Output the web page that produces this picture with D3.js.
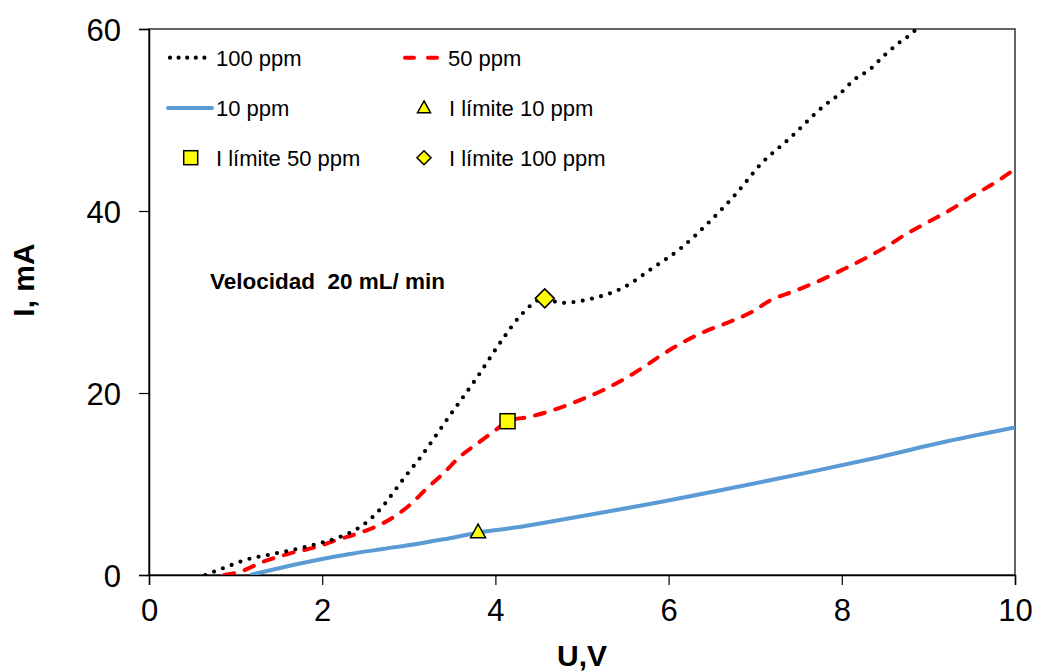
<!DOCTYPE html>
<html><head><meta charset="utf-8">
<script src="https://cdn.jsdelivr.net/npm/d3@7"></script>
<style>body{margin:0;background:#fff}svg{display:block;font-family:"Liberation Sans",Arial,sans-serif}</style>
</head><body>
<svg id="c" width="1038" height="671"></svg>
<script>
const xTicks = [0,2,4,6,8,10];
const yTicks = [0,20,40,60];
const u100 = [0.65,0.90,1.11,1.43,1.76,1.98,2.18,2.40,2.57,2.73,2.86,2.99,3.13,3.26,3.45,3.78,4.09,4.28,4.57,4.75,5.08,5.50,5.81,6.14,6.47,6.78,7.07,7.40,7.80,7.98,8.14,8.33,8.48,8.65,8.83,8.90];
const i100 = [0,0.91,1.65,2.31,2.97,3.52,4.10,5.05,6.26,7.91,9.56,11.2,12.86,14.6,17.2,21.6,26.0,28.4,30.4,29.9,30.3,31.7,33.7,35.9,38.8,41.9,45.2,48.0,51.6,52.9,54.4,55.6,57.0,58.4,59.7,60.4];
const u50 = [0.87,1.05,1.32,1.63,1.94,2.17,2.47,2.70,2.86,3.01,3.21,3.40,3.59,3.82,4.01,4.14,4.40,4.66,4.97,5.24,5.50,5.72,5.94,6.17,6.43,6.70,6.96,7.18,7.45,7.71,8.02,8.25,8.50,8.75,9.00,9.25,9.48,9.75,10.0];
const i50 = [0,0.36,1.46,2.38,3.11,3.85,4.76,5.68,6.59,7.69,9.53,11.18,13.0,14.65,16.0,16.9,17.4,18.1,19.2,20.3,21.6,22.9,24.3,25.6,26.8,27.8,28.9,30.2,31.2,32.2,33.6,34.7,36.0,37.5,38.8,40.1,41.5,43.0,44.6];
const u10 = [1.17,1.36,1.55,1.94,2.32,2.70,3.09,3.40,3.80,4.25,4.63,5.67,6.83,7.60,8.36,9.13,10.0];
const i10 = [0,0.44,0.85,1.65,2.31,2.86,3.41,3.92,4.65,5.24,5.86,7.6,9.75,11.25,12.8,14.5,16.2];
const limNames = ["I límite 10 ppm","I límite 50 ppm","I límite 100 ppm"];
const limU = [3.80,4.14,4.57];
const limI = [4.7,16.9,30.4];
const seriesNames = ["100 ppm","50 ppm","10 ppm"];

const svg = d3.select("#c");
const x = d3.scaleLinear().domain([0,10]).range([149,1015]);
const y = d3.scaleLinear().domain([0,60]).range([575,29]);

svg.append("defs").append("clipPath").attr("id","clip")
  .append("rect").attr("x",149).attr("y",29).attr("width",866).attr("height",546);

svg.append("rect").attr("x",149).attr("y",29).attr("width",866).attr("height",546)
  .attr("fill","none").attr("stroke","#333").attr("stroke-width",1.5);

const xa = svg.append("g").attr("transform","translate(0,575)")
  .call(d3.axisBottom(x).tickValues(xTicks).tickSize(10).tickPadding(14).tickFormat(d3.format("d")));
const ya = svg.append("g").attr("transform","translate(149,0)")
  .call(d3.axisLeft(y).tickValues(yTicks).tickSize(10).tickPadding(18).tickFormat(d3.format("d")));
[xa,ya].forEach(a=>{
  a.select(".domain").attr("stroke","#000").attr("stroke-width",1.5);
  a.selectAll(".tick line").attr("stroke","#000").attr("stroke-width",1.2);
  a.selectAll("text").attr("font-size",31).attr("fill","#000").attr("font-family","Liberation Sans, Arial, sans-serif");
});
ya.selectAll("text").attr("dy","0.36em");

svg.append("text").attr("x",582).attr("y",666).attr("text-anchor","middle")
  .attr("font-size",30).attr("font-weight","bold").text("U,V");
svg.append("text").attr("transform","translate(34,280) rotate(-90)").attr("text-anchor","middle")
  .attr("font-size",30).attr("font-weight","bold").text("I, mA");

const line = d3.line().x(d=>x(d[0])).y(d=>y(d[1])).curve(d3.curveMonotoneX);
const g = svg.append("g").attr("clip-path","url(#clip)");
const z = (a,b)=>a.map((v,i)=>[v,b[i]]);

g.append("path").datum(z(u10,i10)).attr("d",line).attr("fill","none")
  .attr("stroke","#5b9bd5").attr("stroke-width",4);
g.append("path").datum(z(u50,i50)).attr("d",line).attr("fill","none")
  .attr("stroke","#ff0000").attr("stroke-width",4).attr("stroke-linecap","round").attr("stroke-dasharray","10 11");
g.append("path").datum(z(u100,i100)).attr("d",line).attr("fill","none")
  .attr("stroke","#000").attr("stroke-width",4.2).attr("stroke-linecap","round").attr("stroke-dasharray","0 9.4");

function marker(sel, k, cx, cy, big){
  if(k===0){
    const s = big?15:13;
    const h = s*0.9;
    sel.append("path").attr("d",`M${cx},${cy-h*0.6}L${cx+s/2},${cy+h*0.4}L${cx-s/2},${cy+h*0.4}Z`)
      .attr("fill","#ffff00").attr("stroke","#000").attr("stroke-width",1.5);
  } else if(k===1){
    const s = big?15:14;
    sel.append("rect").attr("x",cx-s/2).attr("y",cy-s/2).attr("width",s).attr("height",s)
      .attr("fill","#ffff00").attr("stroke","#000").attr("stroke-width",1.5);
  } else {
    const s = big?9.5:7;
    sel.append("path").attr("d",`M${cx},${cy-s}L${cx+s},${cy}L${cx},${cy+s}L${cx-s},${cy}Z`)
      .attr("fill","#ffff00").attr("stroke","#000").attr("stroke-width",1.5);
  }
}
limU.forEach((u,k)=>marker(svg,k,x(u),y(limI[k]),true));

const lg = svg.append("g").attr("font-size",22);
function legLine(x1,x2,yy,stroke,w,dash,cap){
  const p = lg.append("line").attr("x1",x1).attr("x2",x2).attr("y1",yy).attr("y2",yy)
    .attr("stroke",stroke).attr("stroke-width",w);
  if(dash) p.attr("stroke-dasharray",dash);
  if(cap) p.attr("stroke-linecap",cap);
}
legLine(170,211,57.7,"#000",4.2,"0 8.6","round");
lg.append("text").attr("x",216).attr("y",65.7).text(seriesNames[0]);
legLine(405,442,57.7,"#ff0000",4,"9 14","round");
lg.append("text").attr("x",448).attr("y",65.7).text(seriesNames[1]);
legLine(168,212,108,"#5b9bd5",4,null,"round");
lg.append("text").attr("x",216).attr("y",116).text(seriesNames[2]);
marker(lg,0,424,108,false);
lg.append("text").attr("x",449).attr("y",116).text(limNames[0]);
marker(lg,1,190.7,157.7,false);
lg.append("text").attr("x",216).attr("y",165.7).text(limNames[1]);
marker(lg,2,424,157.7,false);
lg.append("text").attr("x",449).attr("y",165.7).text(limNames[2]);

svg.append("text").attr("x",210).attr("y",288.5).attr("font-size",22.5).attr("font-weight","bold")
  .attr("xml:space","preserve").style("white-space","pre").text("Velocidad  20 mL/ min");
</script>
</body></html>
